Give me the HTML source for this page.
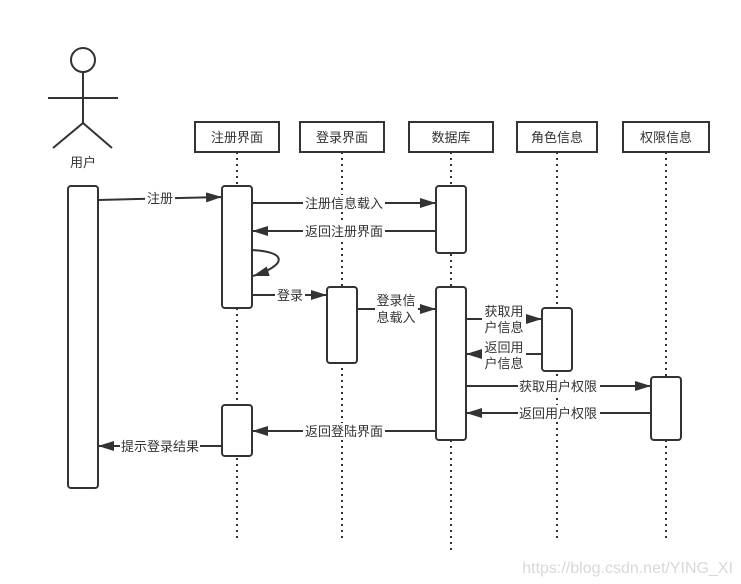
<!DOCTYPE html>
<html><head><meta charset="utf-8"><style>
html,body{margin:0;padding:0;background:#fff;}
svg{display:block;}
text{font-family:"Liberation Sans","Noto Sans CJK SC",sans-serif;font-size:13px;fill:#333;}
</style></head><body>
<svg width="741" height="584" viewBox="0 0 741 584" xmlns="http://www.w3.org/2000/svg">
<defs>
<marker id="a" markerWidth="10" markerHeight="8" refX="10" refY="4" orient="auto" markerUnits="userSpaceOnUse">
<path d="M0,0 L10,4 L0,8 Z" fill="#333"/></marker>
<marker id="b" markerWidth="18" markerHeight="10" refX="16" refY="5" orient="auto" markerUnits="userSpaceOnUse">
<path d="M0,0 L16,5 L0,10 Z" fill="#333"/></marker>
</defs>
<g stroke="#333" stroke-width="2" fill="none">
<!-- actor -->
<circle cx="83" cy="60" r="12" fill="#fff"/>
<line x1="83" y1="72" x2="83" y2="123"/>
<line x1="48" y1="98" x2="118" y2="98"/>
<line x1="83" y1="123" x2="53" y2="148"/>
<line x1="83" y1="123" x2="112" y2="148"/>
</g>
<text x="83" y="167" text-anchor="middle">用户</text>
<!-- lifelines -->
<g stroke="#333" stroke-width="2" stroke-dasharray="2,4">
<line x1="237" y1="152" x2="237" y2="541"/>
<line x1="342" y1="152" x2="342" y2="541"/>
<line x1="451" y1="152" x2="451" y2="551"/>
<line x1="557" y1="152" x2="557" y2="541"/>
<line x1="666" y1="152" x2="666" y2="541"/>
</g>
<!-- headers -->
<g stroke="#333" stroke-width="2" fill="#fff">
<rect x="195" y="122" width="84" height="30"/>
<rect x="300" y="122" width="84" height="30"/>
<rect x="409" y="122" width="84" height="30"/>
<rect x="517" y="122" width="80" height="30"/>
<rect x="623" y="122" width="86" height="30"/>
</g>
<g text-anchor="middle">
<text x="237" y="142">注册界面</text>
<text x="342" y="142">登录界面</text>
<text x="451" y="142">数据库</text>
<text x="557" y="142">角色信息</text>
<text x="666" y="142">权限信息</text>
</g>
<!-- activations -->
<g stroke="#333" stroke-width="2" fill="#fff">
<rect x="68" y="186" width="30" height="302" rx="3"/>
<rect x="222" y="186" width="30" height="122" rx="3"/>
<rect x="222" y="405" width="30" height="51" rx="3"/>
<rect x="327" y="287" width="30" height="76" rx="3"/>
<rect x="436" y="186" width="30" height="67" rx="3"/>
<rect x="436" y="287" width="30" height="153" rx="3"/>
<rect x="542" y="308" width="30" height="63" rx="3"/>
<rect x="651" y="377" width="30" height="63" rx="3"/>
</g>
<!-- messages -->
<g stroke="#333" stroke-width="2" fill="none">
<line x1="98" y1="200" x2="222" y2="197" marker-end="url(#b)"/>
<line x1="252" y1="203" x2="436" y2="203" marker-end="url(#b)"/>
<line x1="436" y1="231" x2="252" y2="231" marker-end="url(#b)"/>
<path d="M252,250 C290,252 285,266 253,276" marker-end="url(#b)"/>
<line x1="252" y1="295" x2="327" y2="295" marker-end="url(#b)"/>
<line x1="357" y1="309" x2="436" y2="309" marker-end="url(#b)"/>
<line x1="466" y1="319" x2="542" y2="319" marker-end="url(#b)"/>
<line x1="542" y1="354" x2="466" y2="354" marker-end="url(#b)"/>
<line x1="466" y1="386" x2="651" y2="386" marker-end="url(#b)"/>
<line x1="651" y1="413" x2="466" y2="413" marker-end="url(#b)"/>
<line x1="436" y1="431" x2="252" y2="431" marker-end="url(#b)"/>
<line x1="222" y1="446" x2="98" y2="446" marker-end="url(#b)"/>
</g>
<!-- labels with white bg -->
<g fill="#fff">
<rect x="145" y="190" width="30" height="17"/>
<rect x="303" y="195" width="82" height="17"/>
<rect x="303" y="223" width="82" height="17"/>
<rect x="275" y="287" width="30" height="17"/>
<rect x="375" y="293" width="43" height="34"/>
<rect x="482" y="303" width="44" height="33"/>
<rect x="482" y="338" width="44" height="33"/>
<rect x="518" y="378" width="82" height="17"/>
<rect x="518" y="405" width="82" height="17"/>
<rect x="303" y="423" width="82" height="17"/>
<rect x="120" y="438" width="80" height="17"/>
</g>
<g text-anchor="middle">
<text x="160" y="203">注册</text>
<text x="344" y="208">注册信息载入</text>
<text x="344" y="236">返回注册界面</text>
<text x="290" y="300">登录</text>
<text x="396" y="305">登录信</text>
<text x="396" y="322">息载入</text>
<text x="504" y="316">获取用</text>
<text x="504" y="332">户信息</text>
<text x="504" y="352">返回用</text>
<text x="504" y="368">户信息</text>
<text x="558" y="391">获取用户权限</text>
<text x="558" y="418">返回用户权限</text>
<text x="344" y="436">返回登陆界面</text>
<text x="160" y="451">提示登录结果</text>
</g>
<text x="733" y="573" text-anchor="end" style="fill:#d8d8d8;font-size:16px">https://blog.csdn.net/YING_XI</text>
</svg>
</body></html>
